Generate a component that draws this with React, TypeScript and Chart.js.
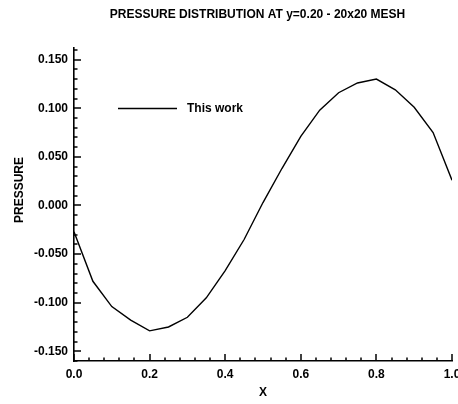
import React, { useEffect, useRef } from "react";
import { Chart, registerables } from "chart.js";

Chart.register(...registerables);

const TITLE = "PRESSURE DISTRIBUTION AT y=0.20 - 20x20 MESH";
const X_LABEL = "X";
const Y_LABEL = "PRESSURE";
const SERIES_LABEL = "This work";

const xValues = [0, 0.05, 0.1, 0.15, 0.2, 0.25, 0.3, 0.35, 0.4, 0.45, 0.5, 0.55, 0.6, 0.65, 0.7, 0.75, 0.8, 0.85, 0.9, 0.95, 1.0];
const pressure = [-0.027, -0.078, -0.104, -0.118, -0.129, -0.125, -0.115, -0.095, -0.067, -0.035, 0.003, 0.038, 0.071, 0.098, 0.116, 0.126, 0.130, 0.119, 0.101, 0.075, 0.026];

const xTicks = [0, 0.2, 0.4, 0.6, 0.8, 1.0];
const yTicks = [-0.15, -0.1, -0.05, 0, 0.05, 0.1, 0.15];
const X_MIN = 0;
const X_MAX = 1;
const Y_MIN = -0.16;
const Y_MAX = 0.162;
const X_MINOR_STEP = 0.04;
const Y_MINOR_STEP = 0.01;

const FONT_FAMILY = "'Liberation Sans', Arial, Helvetica, sans-serif";

const decorPlugin = {
  id: "decor",
  afterDraw(chart: any) {
    const ctx = chart.ctx as CanvasRenderingContext2D;
    const xs = chart.scales.x;
    const ys = chart.scales.y;
    const area = chart.chartArea;
    ctx.save();
    ctx.strokeStyle = "#000";
    ctx.lineWidth = 1.5;
    const nx = Math.round((X_MAX - X_MIN) / X_MINOR_STEP);
    for (let i = 0; i <= nx; i++) {
      const v = X_MIN + i * X_MINOR_STEP;
      const major = xTicks.some((t) => Math.abs(t - v) < 1e-6);
      const px = Math.round(xs.getPixelForValue(v));
      ctx.beginPath();
      ctx.moveTo(px, area.bottom);
      ctx.lineTo(px, area.bottom - (major ? 7 : 3.5));
      ctx.stroke();
    }
    const ny = Math.floor((Y_MAX - Y_MIN) / Y_MINOR_STEP + 1e-6);
    for (let i = 0; i <= ny; i++) {
      const v = Y_MIN + i * Y_MINOR_STEP;
      const major = yTicks.some((t) => Math.abs(t - v) < 1e-6);
      const py = Math.round(ys.getPixelForValue(v));
      ctx.beginPath();
      ctx.moveTo(area.left, py);
      ctx.lineTo(area.left + (major ? 7 : 3.5), py);
      ctx.stroke();
    }

    // title
    ctx.fillStyle = "#000";
    ctx.font = `bold 12px ${FONT_FAMILY}`;
    ctx.textAlign = "center";
    ctx.textBaseline = "middle";
    ctx.fillText(TITLE, 257.5, 15);

    // y axis title
    ctx.save();
    ctx.translate(20, 190);
    ctx.rotate(-Math.PI / 2);
    ctx.fillText(Y_LABEL, 0, 0);
    ctx.restore();

    // legend
    const ly = area.top + 60.5;
    ctx.lineWidth = 1.4;
    ctx.beginPath();
    ctx.moveTo(area.left + 44, ly);
    ctx.lineTo(area.left + 103, ly);
    ctx.stroke();
    ctx.textAlign = "left";
    ctx.fillText(chart.data.datasets[0].label, area.left + 113, ly);
    ctx.restore();
  },
};

export default function App() {
  const ref = useRef<HTMLCanvasElement | null>(null);
  useEffect(() => {
    document.body.style.margin = "0";
    const canvas = ref.current;
    if (!canvas) return;
    const chart = new Chart(canvas, {
      type: "line",
      data: {
        datasets: [
          {
            label: SERIES_LABEL,
            data: xValues.map((x, i) => ({ x, y: pressure[i] })),
            borderColor: "#000",
            backgroundColor: "#000",
            borderWidth: 1.4,
            pointRadius: 0,
            tension: 0,
            fill: false,
          },
        ],
      },
      options: {
        responsive: false,
        animation: false,
        devicePixelRatio: 1,
        layout: { padding: { top: 48, right: 6, left: 0, bottom: 0 } },
        plugins: {
          legend: { display: false },
          title: { display: false },
          tooltip: { enabled: false },
        },
        scales: {
          x: {
            type: "linear",
            min: X_MIN,
            max: X_MAX,
            afterBuildTicks: (s: any) => {
              s.ticks = xTicks.map((v) => ({ value: v }));
            },
            afterFit: (s: any) => {
              s.height = 43;
              s.paddingLeft = 0;
              s.paddingRight = 0;
            },
            grid: { display: false, drawTicks: false, tickLength: 0 },
            border: { display: true, color: "#000", width: 1.6 },
            ticks: {
              color: "#000",
              font: { size: 12, family: FONT_FAMILY, weight: "bold" },
              padding: 6,
              maxRotation: 0,
              autoSkip: false,
              callback: (v: any) => Number(v).toFixed(1),
            },
            title: {
              display: true,
              text: X_LABEL,
              color: "#000",
              font: { size: 12, family: FONT_FAMILY, weight: "bold" },
              padding: { top: 0, bottom: 4 },
            },
          },
          y: {
            type: "linear",
            min: Y_MIN,
            max: Y_MAX,
            afterBuildTicks: (s: any) => {
              s.ticks = yTicks.map((v) => ({ value: v }));
            },
            afterFit: (s: any) => {
              s.width = 74;
              s.paddingTop = 0;
              s.paddingBottom = 0;
            },
            grid: { display: false, drawTicks: false, tickLength: 0 },
            border: { display: true, color: "#000", width: 1.6 },
            ticks: {
              color: "#000",
              font: { size: 12, family: FONT_FAMILY, weight: "bold" },
              padding: 6,
              autoSkip: false,
              callback: (v: any) => Number(v).toFixed(3),
            },
          },
        },
      },
      plugins: [decorPlugin],
    } as any);
    return () => chart.destroy();
  }, []);
  return (
    <div style={{ position: "fixed", left: 0, top: 0, width: 458, height: 404, background: "#fff" }}>
      <canvas ref={ref} width={458} height={404} />
    </div>
  );
}
